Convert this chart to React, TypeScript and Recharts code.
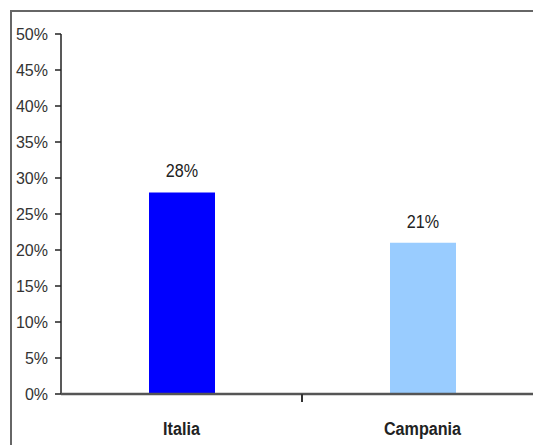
import React from "react";
import { BarChart, Bar, XAxis, YAxis, Cell, LabelList } from "recharts";

const categories = ["Italia", "Campania"];
const shares = [28, 21];
const barColors = ["#0000FF", "#99CCFF"];
const yTicks = [0, 5, 10, 15, 20, 25, 30, 35, 40, 45, 50];

const data = categories.map((name, i) => ({ name, value: shares[i] }));

const FONT = "'Liberation Sans', Arial, sans-serif";

// narrow-looking text: the original uses a condensed face
const Narrow = ({ x, y, bold, children }: any) => (
  <text
    transform={`translate(${x} ${y}) scale(0.85 1)`}
    textAnchor="middle"
    fontFamily={FONT}
    fontSize={19}
    fontWeight={bold ? "bold" : "normal"}
    fill="#222"
  >
    {children}
  </text>
);

// category label plus the single divider tick between the two bands
const CategoryTick = (props: any) => {
  const { x, y, payload, index } = props;
  const half = payload?.offset ?? 0;
  return (
    <g>
      {index === 0 && (
        <line x1={x + half} x2={x + half} y1={y} y2={y + 8} stroke="#333" strokeWidth={2} />
      )}
      <Narrow x={x} y={y + 41} bold>
        {payload.value}
      </Narrow>
    </g>
  );
};

const ValueLabel = (props: any) => {
  const { x, y, width, value } = props;
  return (
    <Narrow x={x + width / 2} y={y - 15}>
      {`${value}%`}
    </Narrow>
  );
};

export default function App() {
  return (
    <div style={{ position: "absolute", left: 0, top: 0, width: 533, height: 445, overflow: "hidden", background: "#fff" }}>
      <div
        style={{
          position: "absolute", left: 10, top: 10, width: 600, height: 600,
          borderLeft: "2px solid #666", borderTop: "2px solid #666",
        }}
      />
      <div style={{ position: "absolute", left: 0, top: 0 }}>
        <BarChart width={560} height={445} data={data} margin={{ top: 34, right: 17, left: 0, bottom: 21 }}>
          <YAxis
            type="number"
            domain={[0, 50]}
            ticks={yTicks}
            width={61}
            interval={0}
            tickFormatter={(v) => `${v}%`}
            axisLine={{ stroke: "#222", strokeWidth: 1.5 }}
            tickLine={{ stroke: "#222", strokeWidth: 1.5 }}
            tickSize={6}
            tickMargin={7}
            tick={{ fontFamily: FONT, fontSize: 16, fill: "#333" }}
          />
          <XAxis
            dataKey="name"
            height={30}
            axisLine={{ stroke: "#555", strokeWidth: 2.5 }}
            tickLine={false}
            tickSize={0}
            tickMargin={0}
            tick={<CategoryTick />}
          />
          <Bar dataKey="value" barSize={66} isAnimationActive={false}>
            {data.map((d, i) => (
              <Cell key={d.name} fill={barColors[i]} />
            ))}
            <LabelList dataKey="value" content={<ValueLabel />} />
          </Bar>
        </BarChart>
      </div>
    </div>
  );
}
